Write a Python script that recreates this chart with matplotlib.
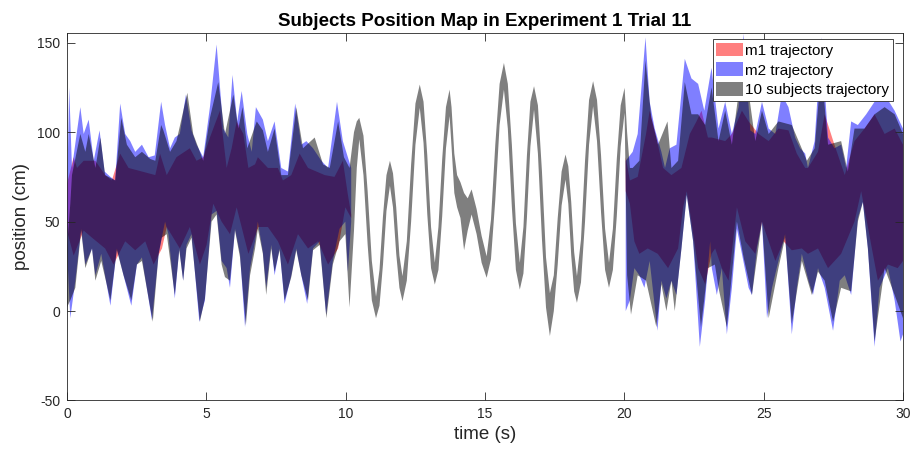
import numpy as np
import matplotlib
matplotlib.use("Agg")
import matplotlib.pyplot as plt

plt.rcParams['font.family'] = ['Liberation Sans', 'DejaVu Sans']
plt.rcParams['axes.unicode_minus'] = False

# ---- m1 (red) band, first and last 10 s ----
m1_a_up_t = [0.0, 0.24, 0.36, 0.6, 1.02, 1.37, 1.61, 1.91, 2.21, 2.69, 3.17, 3.34, 3.58, 3.93, 4.41, 4.65, 4.89, 5.13, 5.49, 5.73,
             5.91, 6.09, 6.33, 6.51, 6.75, 6.85, 7.21, 7.57, 7.75, 8.05, 8.35, 8.65, 9.25, 9.6, 9.9, 10.08, 10.2]
m1_a_up = [71, 86, 80, 84, 84, 76, 73, 88, 80, 78, 76, 88, 76, 86, 91, 84, 86, 97, 112, 80,
           91, 106, 99, 80, 82, 86, 80, 80, 73, 76, 88, 80, 76, 75, 84, 65, 54]
m1_a_lo_t = [0.0, 0.24, 0.6, 0.9, 1.37, 1.67, 2.09, 2.45, 2.81, 3.11, 3.41, 3.58, 4.05, 4.41, 4.77, 5.01, 5.25, 5.55, 5.85, 6.09,
             6.51, 6.87, 7.21, 7.57, 7.93, 8.29, 8.65, 9.01, 9.37, 9.73, 9.99, 10.2]
m1_a_lo = [45, 31, 45, 41, 35, 26, 39, 34, 39, 26, 35, 47, 35, 47, 26, 37, 60, 50, 43, 58,
           32, 47, 47, 39, 26, 43, 35, 39, 26, 35, 58, 52]

m1_b_up_t = [20.05, 20.2, 20.48, 20.78, 20.91, 21.15, 21.39, 21.69, 22.05, 22.35, 22.59, 22.77, 23.0, 23.14, 23.62, 23.86, 24.22,
             24.46, 24.82, 25.18, 25.53, 25.89, 26.19, 26.49, 26.59, 26.95, 27.19, 27.54, 27.91, 28.26, 28.62, 28.98, 29.34,
             29.7, 30.0]
m1_b_up = [86, 73, 75, 99, 112, 97, 80, 76, 80, 99, 106, 112, 97, 97, 95, 99, 112,
           106, 99, 95, 102, 101, 88, 80, 80, 89, 110, 93, 76, 95, 102, 110, 99,
           102, 93]
m1_b_lo_t = [20.05, 20.2, 20.36, 20.54, 20.84, 21.2, 21.57, 21.93, 22.11, 22.24, 22.41, 22.65, 22.9, 23.13, 23.26, 23.5, 23.74,
             24.04, 24.34, 24.7, 24.94, 25.18, 25.42, 25.71, 26.01, 26.37, 26.59, 26.95, 27.31, 27.78, 28.26, 28.5, 28.74,
             29.1, 29.46, 29.81, 30.0]
m1_b_lo = [67, 60, 39, 32, 35, 32, 24, 35, 58, 67, 50, 24, 15, 32, 35, 24, 17,
           58, 39, 32, 50, 39, 28, 39, 34, 35, 32, 35, 24, 32, 50, 67, 47,
           17, 26, 24, 28]

# ---- m2 (blue) band ----
m2_a_up_t = [0.0, 0.08, 0.18, 0.48, 0.6, 0.78, 0.96, 1.17, 1.35, 1.56, 1.73, 1.91, 2.09, 2.27, 2.45, 2.69, 2.93, 3.15, 3.38, 3.52,
             3.7, 3.87, 4.05, 4.27, 4.47, 4.65, 4.89, 5.13, 5.37, 5.61, 5.79, 5.94, 6.11, 6.27, 6.47, 6.63, 6.78, 7.03, 7.21, 7.45,
             7.69, 7.93, 8.19, 8.41, 8.59, 8.83, 9.13, 9.37, 9.69, 9.9, 10.08, 10.2]
m2_a_up = [60, 125, 80, 114, 99, 107, 84, 101, 78, 75, 73, 116, 99, 95, 89, 93, 86, 87, 117, 104,
           91, 97, 99, 121, 101, 93, 86, 114, 149, 102, 97, 132, 106, 123, 99, 89, 114, 107, 95, 106,
           80, 78, 116, 93, 95, 91, 84, 80, 117, 95, 86, 80]
m2_a_lo_t = [0.0, 0.12, 0.3, 0.51, 0.66, 0.9, 1.02, 1.23, 1.56, 1.79, 2.03, 2.31, 2.51, 2.69, 3.05, 3.29, 3.52, 3.64, 3.87, 4.03,
             4.17, 4.29, 4.47, 4.75, 4.95, 5.19, 5.37, 5.55, 5.73, 5.85, 6.03, 6.21, 6.39, 6.57, 6.75, 6.85, 7.03, 7.15, 7.33, 7.45,
             7.63, 7.81, 8.05, 8.23, 8.41, 8.62, 8.83, 9.07, 9.3, 9.54, 9.78, 9.99, 10.08, 10.2]
m2_a_lo = [35, -4, 17, 46, 26, 35, 20, 32, 3, 35, 20, 3, 26, 30, -5, 32, 50, 43, 7, 35,
           17, 37, 43, -6, 6, 54, 56, 28, 24, 13, 46, 32, -9, 24, 39, 50, 33, 13, 37, 20,
           35, 4, 20, 35, 20, 4, 35, 39, -2, 28, 46, 50, 22, 50]

m2_b_up_t = [20.05, 20.3, 20.48, 20.76, 20.91, 21.09, 21.33, 21.46, 21.63, 21.87, 22.17, 22.41, 22.65, 22.87, 23.13, 23.38,
             23.62, 23.86, 24.1, 24.28, 24.52, 24.7, 24.94, 25.18, 25.42, 25.65, 25.89, 26.13, 26.31, 26.49, 26.59, 26.83,
             27.07, 27.31, 27.54, 27.78, 27.96, 28.14, 28.38, 28.68, 28.98, 29.34, 29.7, 30.0]
m2_b_up = [84, 89, 99, 153, 117, 102, 89, 80, 91, 93, 141, 130, 127, 112, 136, 102,
           117, 99, 114, 155, 101, 99, 117, 102, 99, 121, 114, 97, 91, 88, 80, 95,
           153, 97, 91, 93, 80, 106, 104, 110, 117, 121, 112, 102]
m2_b_lo_t = [20.05, 20.2, 20.36, 20.54, 20.72, 20.91, 21.19, 21.33, 21.51, 21.69, 21.87, 22.05, 22.24, 22.47, 22.71, 22.9,
             23.08, 23.14, 23.32, 23.5, 23.68, 23.86, 24.04, 24.22, 24.46, 24.58, 24.76, 24.94, 25.12, 25.3, 25.53, 25.77,
             26.01, 26.19, 26.37, 26.61, 26.77, 26.95, 27.19, 27.49, 27.73, 27.91, 28.14, 28.38, 28.56, 28.74, 28.98, 29.16,
             29.46, 29.7, 29.91, 30.0]
m2_b_lo = [0, 6, 24, 20, 13, 28, -11, 17, 7, 17, 9, 35, 65, 39, -20, 6,
           39, 24, 9, 24, -13, 13, 46, 32, 13, 9, 35, 50, -4, 13, 28, 43,
           -13, 13, 32, 17, 9, 24, 13, -11, 17, 20, 9, 52, 61, 35, -20, 13,
           24, 6, -17, -13]

# ---- 10 subjects (gray) band, whole trial ----
subj_a_up_t = [0.0, 0.12, 0.18, 0.48, 0.66, 0.78, 1.02, 1.2, 1.37, 1.73, 1.95, 2.15, 2.45, 2.69, 2.99, 3.17, 3.38, 3.46, 3.7, 3.93,
               4.32, 4.53, 4.89, 5.13, 5.43, 5.67, 5.97, 6.15, 6.3, 6.47, 6.81, 7.03, 7.21, 7.45, 7.69, 7.93, 8.23, 8.47, 8.89,
               9.19, 9.43, 9.73, 9.94, 10.14, 10.3, 10.4]
subj_a_up = [35, 60, 76, 99, 89, 99, 80, 97, 76, 73, 108, 93, 86, 89, 85, 84, 104, 101, 89, 95,
             122, 99, 84, 108, 128, 99, 121, 102, 114, 91, 106, 101, 89, 102, 76, 76, 114, 91, 97,
             82, 80, 106, 86, 80, 100, 106]
subj_a_lo_t = [0.0, 0.12, 0.3, 0.51, 0.66, 0.9, 1.02, 1.23, 1.56, 1.79, 2.03, 2.31, 2.51, 2.69, 3.08, 3.29, 3.4, 3.58, 3.87, 4.03,
               4.17, 4.29, 4.47, 4.77, 4.95, 5.19, 5.37, 5.55, 5.67, 5.85, 6.03, 6.21, 6.42, 6.57, 6.75, 6.85, 7.03, 7.15, 7.33,
               7.45, 7.63, 7.81, 8.05, 8.23, 8.41, 8.65, 8.83, 9.07, 9.31, 9.54, 9.78, 9.99, 10.14, 10.3, 10.4]
subj_a_lo = [2, 6, 13, 45, 24, 35, 17, 28, 6, 34, 20, 6, 26, 28, -6, 32, 41, 43, 9, 34,
             17, 35, 41, -6, 7, 50, 54, 26, 19, 17, 45, 30, -8, 20, 35, 46, 32, 9, 35,
             22, 34, 6, 19, 34, 20, 6, 34, 37, -4, 26, 39, 43, 2, 45, 80]

subj_mid_t = [10.49, 10.64, 10.79, 10.94, 11.09, 11.215, 11.34, 11.465, 11.59, 11.70, 11.815, 11.93, 12.04, 12.195, 12.35,
              12.505, 12.66, 12.795, 12.93, 13.065, 13.2, 13.33, 13.465, 13.6, 13.73, 13.8, 13.9, 14.0, 14.12, 14.25, 14.38,
              14.52, 14.7, 14.88, 15.06, 15.215, 15.37, 15.525, 15.68, 15.82, 15.965, 16.11, 16.25, 16.38, 16.505, 16.63,
              16.76, 16.9, 17.045, 17.19, 17.33, 17.47, 17.61, 17.75, 17.89, 17.99, 18.095, 18.2, 18.3, 18.445, 18.59,
              18.735, 18.88, 19.02, 19.165, 19.31, 19.45, 19.59, 19.73, 19.87, 20.01]
subj_mid_up = [108, 98, 67, 28, 8, 23, 53, 76, 84, 77, 58, 31, 19.5, 39, 82,
               116, 126.6, 117, 87, 47, 27, 47, 85, 114, 123.8, 114, 88, 76, 72, 66, 63,
               68, 57, 42, 30.6, 51, 93, 127, 138.7, 127, 93, 49, 27, 47, 87, 117,
               125.7, 115, 78, 30, 10, 20, 52, 78, 87.5, 81, 61, 33, 19.5, 40, 84,
               118, 128.5, 118, 87, 46, 27, 46, 85, 115, 124.8]
subj_mid_lo = [96, 76, 37, 6, -4, 3, 26, 56, 70, 58, 32, 13, 5.5, 17, 50,
               93, 113.6, 94, 54, 24, 14.8, 23, 53, 91, 109, 92, 66, 58, 52, 34, 45,
               54, 43, 27, 18.6, 29, 62, 104, 123.8, 102, 58, 23, 12, 21, 52, 92,
               112.6, 88, 40, 2, -14, 0, 26, 59, 73.5, 60, 31, 11, 4.6, 16, 50,
               93, 114.5, 95, 55, 23, 13, 23, 53, 92, 110.8]

subj_b_up_t = [20.1, 20.2, 20.3, 20.54, 20.76, 20.97, 21.21, 21.55, 21.69, 21.93, 22.17, 22.41, 22.65, 22.9, 23.13, 23.38,
               23.62, 23.86, 24.28, 24.7, 24.94, 25.18, 25.53, 26.01, 26.31, 26.55, 26.83, 27.07, 27.31, 27.78, 28.02, 28.26,
               28.62, 28.98, 29.34, 29.7, 30.0]
subj_b_up = [100, 80, 80, 84, 140, 108, 93, 106, 80, 84, 128, 110, 110, 104, 125, 95,
             112, 93, 143, 95, 112, 99, 106, 104, 93, 84, 91, 136, 93, 95, 78, 102,
             102, 110, 114, 110, 99]
subj_b_lo_t = [20.1, 20.24, 20.48, 20.78, 21.15, 21.33, 21.51, 21.69, 21.81, 22.05, 22.24, 22.47, 22.75, 23.0, 23.25, 23.38,
               23.68, 24.04, 24.28, 24.58, 24.94, 25.18, 25.53, 25.77, 26.01, 26.37, 26.73, 26.95, 27.19, 27.49, 27.78, 28.14,
               28.38, 28.56, 28.74, 28.98, 29.34, 29.7, 30.0]
subj_b_lo = [20, -2, 20, 17, -9, 15, 0, 17, 0, 35, 65, 39, -9, 24, 26, 13,
             -9, 50, 30, 9, 50, -4, 24, 41, -7, 28, 9, 22, 17, -6, 13, 11,
             50, 61, 35, -17, 24, 9, -4]


def band(ax, up_t, up, lo_t, lo, **kw):
    # polygon: upper edge left->right, lower edge right->left
    xs = np.concatenate([up_t, lo_t[::-1]])
    ys = np.concatenate([up, lo[::-1]])
    return ax.fill(xs, ys, linewidth=0, **kw)


fig = plt.figure(figsize=(9.16, 4.55), dpi=100)
ax = fig.add_axes([0.0731, 0.1198, 0.9127, 0.8083])

band(ax, m1_a_up_t, m1_a_up, m1_a_lo_t, m1_a_lo, color='red', alpha=0.5, label='m1 trajectory')
band(ax, m1_b_up_t, m1_b_up, m1_b_lo_t, m1_b_lo, color='red', alpha=0.5)
band(ax, m2_a_up_t, m2_a_up, m2_a_lo_t, m2_a_lo, color='blue', alpha=0.5, label='m2 trajectory')
band(ax, m2_b_up_t, m2_b_up, m2_b_lo_t, m2_b_lo, color='blue', alpha=0.5)

subj_up_t = subj_a_up_t + subj_mid_t + subj_b_up_t
subj_up = subj_a_up + subj_mid_up + subj_b_up
subj_lo_t = subj_a_lo_t + subj_mid_t + subj_b_lo_t
subj_lo = subj_a_lo + subj_mid_lo + subj_b_lo
band(ax, subj_up_t, subj_up, subj_lo_t, subj_lo, color='black', alpha=0.5, label='10 subjects trajectory')

ax.set_xlim(0, 30)
ax.set_ylim(-50, 155.6)
ax.set_xticks(np.arange(0, 31, 5))
ax.set_yticks(np.arange(-50, 151, 50))
ax.tick_params(direction='in', length=5.8, width=0.6, colors='#262626', labelsize=10,
               top=True, right=True, pad=5)
for s in ax.spines.values():
    s.set_color('#262626')
    s.set_linewidth(0.6)

ax.set_xlabel('time (s)', fontsize=13.5, color='#262626', labelpad=3)
ax.set_ylabel('position (cm)', fontsize=13.5, color='#262626', labelpad=5)
ax.set_title('Subjects Position Map in Experiment 1 Trial 11', fontsize=13.5, fontweight='bold', pad=5)

leg = ax.legend(loc='upper right', bbox_to_anchor=(0.988, 0.983), borderaxespad=0, fontsize=11,
                fancybox=False, framealpha=1, edgecolor='#262626', handlelength=1.75, handleheight=1.0,
                handletextpad=0.13, labelspacing=0.3, borderpad=0.25)
leg.get_frame().set_linewidth(0.6)

fig.savefig('out.png', dpi=100)
